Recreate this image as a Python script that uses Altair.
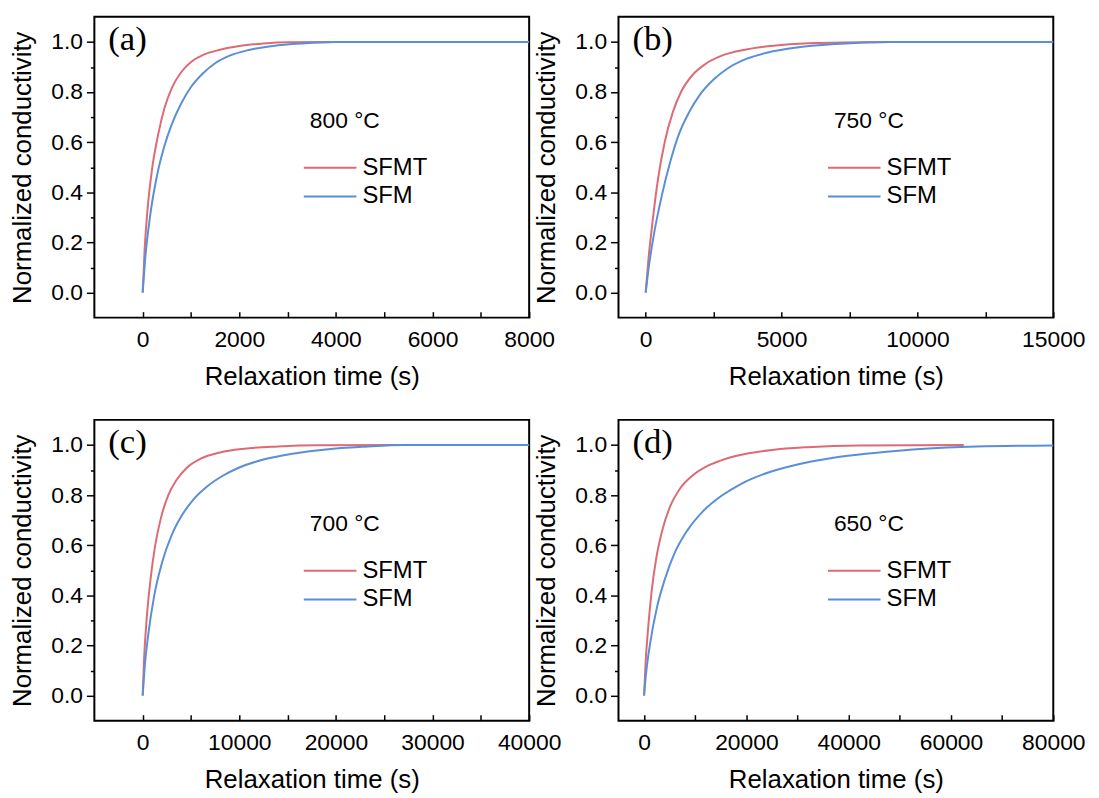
import altair as alt
import pandas as pd

SERIES = ["SFMT", "SFM"]
COLORS = ["#dd6b75", "#5a8fd8"]

PANEL_LABELS = ["(a)", "(b)", "(c)", "(d)"]
TEMPS = ["800 °C", "750 °C", "700 °C", "650 °C"]
X_MIN = [-1000, -1000, -5000, -5000]
X_MAX = [8000, 15000, 40000, 80000]
X_STEP = [1000, 2500, 5000, 10000]
Y_TICKS = [0.0, 0.1, 0.2, 0.3, 0.4, 0.5, 0.6, 0.7, 0.8, 0.9, 1.0]

# (a) 800 C
a_red_x = [0, 40, 100, 200, 320, 450, 600, 800, 1000, 1250, 1600, 2000, 2500, 3000, 3900]
a_red_y = [0, 0.17, 0.33, 0.5, 0.63, 0.735, 0.815, 0.88, 0.92, 0.948, 0.969, 0.984, 0.994, 0.999, 1.0]
a_blue_x = [0, 50, 150, 300, 450, 600, 800, 1000, 1250, 1500, 1800, 2200, 2700, 3300, 4000, 8000]
a_blue_y = [0, 0.13, 0.30, 0.47, 0.585, 0.67, 0.755, 0.82, 0.875, 0.915, 0.945, 0.968, 0.984, 0.994, 1.0, 1.0]

# (b) 750 C
b_red_x = [0, 100, 250, 450, 700, 1000, 1300, 1700, 2200, 2800, 3600, 4600, 6000, 9000]
b_red_y = [0, 0.13, 0.28, 0.45, 0.6, 0.72, 0.8, 0.865, 0.912, 0.945, 0.968, 0.984, 0.995, 1.0]
b_blue_x = [0, 100, 300, 600, 900, 1200, 1600, 2000, 2500, 3000, 3700, 4500, 5500, 7000, 9000, 15000]
b_blue_y = [0, 0.09, 0.23, 0.39, 0.52, 0.625, 0.72, 0.79, 0.85, 0.893, 0.932, 0.958, 0.977, 0.992, 1.0, 1.0]

# (c) 700 C
c_red_x = [0, 150, 400, 800, 1300, 1900, 2600, 3500, 4600, 6000, 8000, 10500, 14000, 18000, 26500]
c_red_y = [0, 0.15, 0.3, 0.46, 0.6, 0.71, 0.795, 0.86, 0.91, 0.945, 0.97, 0.985, 0.994, 0.999, 1.0]
c_blue_x = [0, 200, 600, 1200, 2000, 3000, 4000, 5200, 6600, 8200, 10000, 12500, 15500, 19000, 23000, 27000, 40000]
c_blue_y = [0, 0.11, 0.25, 0.4, 0.53, 0.64, 0.715, 0.78, 0.832, 0.875, 0.91, 0.942, 0.965, 0.982, 0.993, 1.0, 1.0]

# (d) 650 C
d_red_x = [0, 300, 800, 1500, 2400, 3500, 5000, 7000, 9500, 12500, 16000, 20000, 25000, 32000, 42000, 62500]
d_red_y = [0, 0.13, 0.27, 0.42, 0.55, 0.655, 0.75, 0.825, 0.878, 0.917, 0.945, 0.965, 0.98, 0.991, 0.998, 1.0]
d_blue_x = [0, 400, 1200, 2500, 4000, 6000, 8500, 11500, 15000, 19000, 24000, 30000, 37000, 45000, 54000, 65000, 80000]
d_blue_y = [0, 0.09, 0.21, 0.35, 0.46, 0.57, 0.66, 0.735, 0.795, 0.845, 0.888, 0.922, 0.949, 0.968, 0.984, 0.994, 0.998]

CURVES = [
    (a_red_x, a_red_y, a_blue_x, a_blue_y),
    (b_red_x, b_red_y, b_blue_x, b_blue_y),
    (c_red_x, c_red_y, c_blue_x, c_blue_y),
    (d_red_x, d_red_y, d_blue_x, d_blue_y),
]

W, H = 438, 303
SANS = "Liberation Sans"


def value_text(txt, x, y, font=SANS, size=23, align="left"):
    return alt.Chart(pd.DataFrame({"t": [txt]})).mark_text(
        font=font, fontSize=size, align=align, baseline="middle", color="black"
    ).encode(text="t:N", x=alt.value(x), y=alt.value(y))


def legend_line(color, y):
    return alt.Chart(pd.DataFrame({"k": [0]})).mark_rule(
        color=color, strokeWidth=2
    ).encode(x=alt.value(211), x2=alt.value(264), y=alt.value(y))


def panel(i):
    rx, ry, bx, by = CURVES[i]
    df = pd.DataFrame({
        "t": rx + bx,
        "v": ry + by,
        "series": [SERIES[0]] * len(rx) + [SERIES[1]] * len(bx),
    })
    step = X_STEP[i]
    xvals = list(range(0, X_MAX[i] + 1, step))
    lines = alt.Chart(df).mark_line(interpolate="monotone", strokeWidth=2).encode(
        x=alt.X("t:Q",
                scale=alt.Scale(domain=[X_MIN[i], X_MAX[i]], nice=False, zero=False),
                axis=alt.Axis(values=xvals, format="d",
                              labelExpr=f"round(datum.value / {step}) % 2 == 0 ? datum.label : ''",
                              title="Relaxation time (s)", offset=-6, tickSize=6,
                              labelPadding=11, titlePadding=12, domain=False,
                              labelFlush=False, labelOverlap=False, grid=False)),
        y=alt.Y("v:Q",
                scale=alt.Scale(domain=[-0.1, 1.1], nice=False, zero=False),
                axis=alt.Axis(values=Y_TICKS, format=".1f",
                              labelExpr="round(datum.value * 10) % 2 == 0 ? datum.label : ''",
                              title="Normalized conductivity",
                              tickSize={"condition": {"test": "round(datum.value * 10) % 2 == 0", "value": 8}, "value": 4},
                              labelPadding=4, titlePadding=15, domain=False,
                              labelFlush=False, labelOverlap=False, grid=False)),
        color=alt.Color("series:N", scale=alt.Scale(domain=SERIES, range=COLORS), legend=None),
    )
    layers = [
        lines,
        value_text(PANEL_LABELS[i], 14, 22, font="Liberation Serif", size=35),
        value_text(TEMPS[i], 217, 105, size=23),
        legend_line(COLORS[0], 152),
        legend_line(COLORS[1], 181),
        value_text(SERIES[0], 270, 152, size=24),
        value_text(SERIES[1], 270, 181, size=24),
    ]
    return alt.layer(*layers).properties(width=W, height=H)


chart = alt.concat(
    *[panel(i) for i in range(4)],
    columns=2,
    spacing={"row": 103, "column": 90},
    bounds="flush",
).properties(
    padding={"left": 1, "top": 5, "right": 5, "bottom": 0}
).configure_view(
    stroke="black", strokeWidth=2
).configure_axis(
    labelFont=SANS, labelFontSize=23, labelColor="black",
    titleFont=SANS, titleFontSize=26, titleFontWeight="normal", titleColor="black",
    tickColor="black", tickWidth=1.5,
)

chart.save("out.html", embed_options={"renderer": "svg", "actions": False})
